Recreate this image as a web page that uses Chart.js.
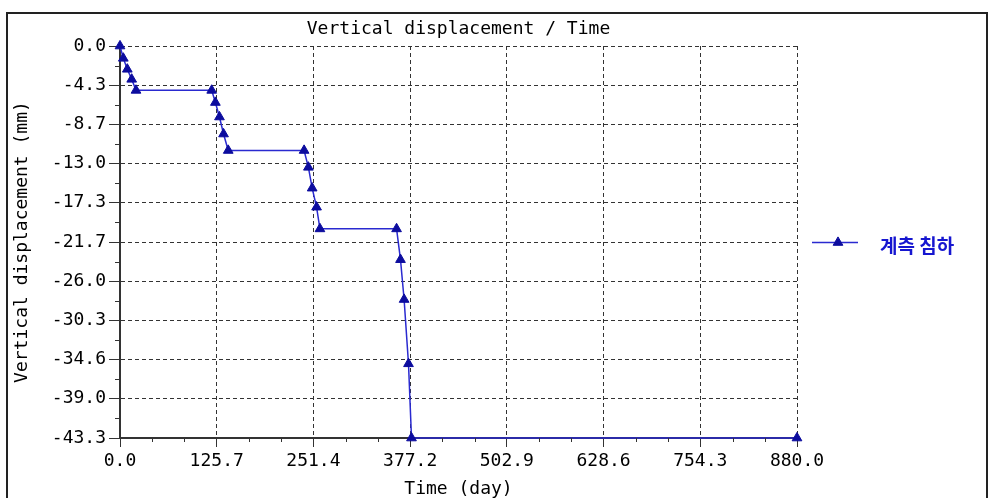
<!DOCTYPE html>
<html>
<head>
<meta charset="utf-8">
<title>Vertical displacement / Time</title>
<script src="https://cdn.jsdelivr.net/npm/chart.js@4/dist/chart.umd.min.js"></script>
<style>
  html, body { margin: 0; padding: 0; background: #fff; }
  #wrap { width: 992px; height: 498px; }
</style>
</head>
<body>
<div id="wrap"><canvas id="c" width="992" height="498"></canvas></div>
<script>
// Settlement record: elapsed time (day) and vertical displacement (mm)
const days = [0, 4.3, 9.5, 15.2, 20.8, 119.2, 124, 129.3, 134.6, 140.7, 239.3, 244.9, 249.8, 255.5, 259.9, 359.5, 364.6, 369.3, 375, 378.9, 880];
const displacement = [0, -1.36, -2.57, -3.68, -4.9, -4.9, -6.24, -7.84, -9.72, -11.54, -11.54, -13.4, -15.7, -17.8, -20.2, -20.2, -23.6, -28.0, -35.1, -43.3, -43.3];

const xTickLabels = ['0.0', '125.7', '251.4', '377.2', '502.9', '628.6', '754.3', '880.0'];
const yTickLabels = ['0.0', '-4.3', '-8.7', '-13.0', '-17.3', '-21.7', '-26.0', '-30.3', '-34.6', '-39.0', '-43.3'];

const X_MAX = 880;
const Y_MIN = -43.3;
const seriesName = '계측 침하';

const FONT = '"DejaVu Sans Mono", "Liberation Mono", monospace';
const INK = '#000';
const LINE_BLUE = '#2a2ad0';
const MARK_BLUE = '#0c0c9e';

const points = days.map((d, i) => ({ x: d, y: displacement[i] }));

// white page and outer frame
const framePlugin = {
  id: 'frame',
  beforeDraw(chart) {
    const ctx = chart.ctx;
    ctx.save();
    ctx.fillStyle = '#fff';
    ctx.fillRect(0, 0, chart.width, chart.height);
    ctx.strokeStyle = '#222';
    ctx.lineWidth = 2;
    ctx.strokeRect(7, 13, 980, 500);
    ctx.restore();
  }
};

// short minor ticks between the labelled ones
const minorTicks = {
  id: 'minorTicks',
  afterDraw(chart) {
    const { ctx, scales: { x, y } } = chart;
    ctx.save();
    ctx.strokeStyle = '#333';
    ctx.lineWidth = 1;
    ctx.beginPath();
    const xt = x.ticks.map(t => t.value);
    for (let i = 0; i < xt.length - 1; i++) {
      for (let k = 1; k < 3; k++) {
        const px = Math.round(x.getPixelForValue(xt[i] + (xt[i + 1] - xt[i]) * k / 3)) + 0.5;
        ctx.moveTo(px, y.bottom);
        ctx.lineTo(px, y.bottom + 4);
      }
    }
    const yt = y.ticks.map(t => t.value);
    for (let i = 0; i < yt.length - 1; i++) {
      const py = Math.round(y.getPixelForValue((yt[i] + yt[i + 1]) / 2)) + 0.5;
      ctx.moveTo(x.left - 5, py);
      ctx.lineTo(x.left, py);
    }
    ctx.stroke();
    ctx.restore();
  }
};

// series key to the right of the plot
const sideLegend = {
  id: 'sideLegend',
  afterDraw(chart) {
    const ctx = chart.ctx;
    const ds = chart.data.datasets[0];
    const ly = 242.5;
    ctx.save();
    ctx.strokeStyle = ds.borderColor;
    ctx.lineWidth = 1.5;
    ctx.beginPath();
    ctx.moveTo(812, ly);
    ctx.lineTo(858, ly);
    ctx.stroke();
    ctx.fillStyle = ds.pointBackgroundColor;
    ctx.strokeStyle = ds.pointBorderColor;
    ctx.lineWidth = 1;
    Chart.helpers.drawPoint(ctx, { pointStyle: 'triangle', radius: ds.pointRadius, borderWidth: 1, rotation: 0 }, 838, ly);
    ctx.fillStyle = '#1616d0';
    ctx.font = 'bold 19px "Noto Sans CJK KR", sans-serif';
    ctx.textBaseline = 'middle';
    ctx.textAlign = 'left';
    ctx.fillText(ds.label, 880, ly + 3);
    ctx.restore();
  }
};

new Chart(document.getElementById('c'), {
  type: 'line',
  data: {
    datasets: [{
      label: seriesName,
      data: points,
      borderColor: LINE_BLUE,
      borderWidth: 1.5,
      pointStyle: 'triangle',
      pointRadius: 5.6,
      pointBorderWidth: 1,
      pointBackgroundColor: MARK_BLUE,
      pointBorderColor: MARK_BLUE,
      tension: 0,
      fill: false,
      clip: false
    }]
  },
  options: {
    responsive: false,
    animation: false,
    devicePixelRatio: 1,
    layout: { padding: { top: 14, right: 195, bottom: 0, left: 0 } },
    plugins: {
      legend: { display: false },
      tooltip: { enabled: false },
      title: {
        display: true,
        fullSize: false,
        text: 'Vertical displacement / Time',
        color: INK,
        font: { family: FONT, size: 18, weight: 'normal', lineHeight: 1.2 },
        padding: { top: 4.5, bottom: 5.9 }
      }
    },
    scales: {
      x: {
        type: 'linear',
        min: 0,
        max: X_MAX,
        afterBuildTicks(scale) {
          scale.ticks = xTickLabels.map((_, i) => ({ value: X_MAX * i / (xTickLabels.length - 1) }));
        },
        afterFit(scale) { scale.height = 60; },
        ticks: {
          autoSkip: false,
          maxRotation: 0,
          padding: 4,
          color: INK,
          font: { family: FONT, size: 18 },
          callback: (v, i) => xTickLabels[i]
        },
        grid: {
          color: '#333',
          lineWidth: 1,
          tickLength: 9,
          tickColor: '#333',
          tickWidth: 1
        },
        border: { display: true, color: '#333', width: 2, dash: [4, 3] },
        title: {
          display: true,
          text: 'Time (day)',
          color: INK,
          font: { family: FONT, size: 18, lineHeight: 1 },
          padding: { top: 0, bottom: 0 }
        }
      },
      y: {
        type: 'linear',
        min: Y_MIN,
        max: 0,
        afterBuildTicks(scale) {
          scale.ticks = yTickLabels.map((_, i) => ({ value: Y_MIN * i / (yTickLabels.length - 1) }));
        },
        afterFit(scale) { scale.width = 120; },
        ticks: {
          autoSkip: false,
          padding: 3,
          color: INK,
          font: { family: FONT, size: 18 },
          callback: (v, i) => yTickLabels[i]
        },
        grid: {
          color: '#333',
          lineWidth: 1,
          tickLength: 11,
          tickColor: '#333',
          tickWidth: 1
        },
        border: { display: true, color: '#333', width: 2, dash: [4, 3] },
        title: {
          display: true,
          text: 'Vertical displacement (mm)',
          color: INK,
          font: { family: FONT, size: 18, lineHeight: 1.2 },
          padding: { top: 12, bottom: 0 }
        }
      }
    }
  },
  plugins: [framePlugin, minorTicks, sideLegend]
});
</script>
</body>
</html>
